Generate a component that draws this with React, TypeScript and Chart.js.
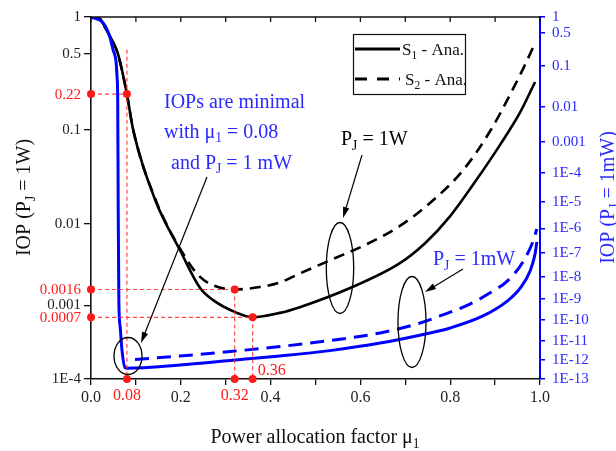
import React, { useEffect, useRef } from 'react';
import { Chart, registerables } from 'chart.js';
Chart.register(...registerables);

const FONT = '"Liberation Serif", "Times New Roman", serif';
const BLUE = '#0000ff';
const TEXT_BLUE = '#2a2aff';
const RED = '#ff1a1a';
const INK = '#222222';

// ---- data: IOP vs power allocation factor mu1 ----
const mu1W_S1 = [0, 0.02, 0.031, 0.047, 0.06, 0.069, 0.08, 0.094, 0.143, 0.198, 0.243, 0.272, 0.325, 0.36, 0.421, 0.465, 0.577, 0.688, 0.744, 0.8, 0.855, 0.911, 0.956, 0.989];
const iop1W_S1 = [1, 0.965, 0.83, 0.65, 0.5, 0.36, 0.22, 0.1, 0.0185, 0.0049, 0.00167, 0.00117, 0.0008, 0.0007, 0.0008, 0.00095, 0.00167, 0.0034, 0.0059, 0.0122, 0.029, 0.071, 0.149, 0.283];

const mu1W_S2 = [0, 0.02, 0.031, 0.047, 0.06, 0.069, 0.08, 0.094, 0.143, 0.22, 0.243, 0.265, 0.32, 0.376, 0.421, 0.465, 0.539, 0.615, 0.688, 0.755, 0.829, 0.889, 0.933, 0.962, 0.984];
const iop1W_S2 = [1, 0.965, 0.83, 0.65, 0.5, 0.36, 0.22, 0.1, 0.019, 0.0033, 0.0023, 0.00188, 0.0016, 0.00172, 0.00196, 0.00254, 0.00382, 0.00578, 0.0094, 0.0171, 0.039, 0.0976, 0.216, 0.369, 0.559];

const mu1mW_S1 = [0, 0.027, 0.042, 0.049, 0.056, 0.058, 0.0595, 0.0605, 0.062, 0.065, 0.069, 0.076, 0.08, 0.198, 0.31, 0.421, 0.532, 0.644, 0.755, 0.8, 0.873, 0.927, 0.956, 0.978, 0.989, 0.993];
const iop1mW_S1 = [1, 0.78, 0.42, 0.23, 0.12, 0.056, 0.015, 1.2e-5, 9e-10, 4.7e-11, 3.3e-12, 4e-13, 3.8e-13, 5.6e-13, 9.6e-13, 1.64e-12, 3.1e-12, 7.5e-12, 2.4e-11, 4.2e-11, 1.6e-10, 8.0e-10, 3.1e-9, 1.76e-8, 9.2e-8, 2.9e-7];

const mu1mW_S2 = [0.098, 0.198, 0.31, 0.421, 0.532, 0.644, 0.733, 0.777, 0.844, 0.889, 0.927, 0.962, 0.984, 0.993];
const iop1mW_S2 = [1.08e-12, 1.64e-12, 2.8e-12, 5.0e-12, 1.0e-11, 2.4e-11, 7.3e-11, 1.6e-10, 5.8e-10, 1.9e-9, 6.4e-9, 4.3e-8, 2.9e-7, 9.4e-7];

// ---- ticks ----
const xTicks = [0, 0.1, 0.2, 0.3, 0.4, 0.5, 0.6, 0.7, 0.8, 0.9, 1.0];
const leftTicks = [1, 0.5, 0.1, 0.01, 0.001, 1e-4];
const leftLabels = ['1', '0.5', '0.1', '0.01', '0.001', '1E-4'];
const rightTicks = [1, 0.5, 0.1, 0.01, 0.001, 1e-4, 1e-5, 1e-6, 1e-7, 1e-8, 1e-9, 1e-10, 1e-11, 1e-12, 1e-13];
const rightLabels = ['1', '0.5', '0.1', '0.01', '0.001', '1E-4', '1E-5', '1E-6', '1E-7', '1E-8', '1E-9', '1E-10', '1E-11', '1E-12', '1E-13'];

// ---- red guide markers ----
const guideMu = [0.08, 0.32, 0.36];
const guideIop = [0.22, 0.0016, 0.0007];
const guideTopIop = [0.54, 0.0016, 0.0007];
const guideMuLabels = ['0.08', '0.32', '0.36'];
const guideIopLabels = ['0.22', '0.0016', '0.0007'];

// axis warp (compressed log scale)
const C_LEFT = 1.75;
const C_RIGHT = 1.6;
const warp = (v: number, c: number) => -(Math.sqrt(Math.max(0, -Math.log10(v)) + c) - Math.sqrt(c));

type Part = [string, boolean?];

function richWidth(ctx: CanvasRenderingContext2D, parts: Part[], size: number) {
  let w = 0;
  for (const [t, sub] of parts) {
    ctx.font = `${sub ? size * 0.68 : size}px ${FONT}`;
    w += ctx.measureText(t).width;
  }
  return w;
}

function drawRich(ctx: CanvasRenderingContext2D, parts: Part[], x: number, y: number, size: number, color: string, align: 'left' | 'center' | 'right' = 'left') {
  const w = richWidth(ctx, parts, size);
  let cx = align === 'left' ? x : align === 'center' ? x - w / 2 : x - w;
  ctx.fillStyle = color;
  ctx.textAlign = 'left';
  ctx.textBaseline = 'alphabetic';
  for (const [t, sub] of parts) {
    const s = sub ? size * 0.68 : size;
    ctx.font = `${s}px ${FONT}`;
    ctx.fillText(t, cx, sub ? y + size * 0.24 : y);
    cx += ctx.measureText(t).width;
  }
}

function arrow(ctx: CanvasRenderingContext2D, x1: number, y1: number, x2: number, y2: number) {
  const a = Math.atan2(y2 - y1, x2 - x1);
  const L = 11, W = 3.2;
  ctx.beginPath();
  ctx.moveTo(x1, y1);
  ctx.lineTo(x2 - Math.cos(a) * L * 0.8, y2 - Math.sin(a) * L * 0.8);
  ctx.stroke();
  ctx.beginPath();
  ctx.moveTo(x2, y2);
  ctx.lineTo(x2 - Math.cos(a) * L + Math.sin(a) * W, y2 - Math.sin(a) * L - Math.cos(a) * W);
  ctx.lineTo(x2 - Math.cos(a) * L - Math.sin(a) * W, y2 - Math.sin(a) * L + Math.cos(a) * W);
  ctx.closePath();
  ctx.fill();
}

function ellipse(ctx: CanvasRenderingContext2D, x: number, y: number, rx: number, ry: number) {
  ctx.beginPath();
  ctx.ellipse(x, y, rx, ry, 0, 0, Math.PI * 2);
  ctx.stroke();
}

const overlayPlugin = {
  id: 'overlay',
  afterDatasetsDraw(chart: any) {
    const ctx: CanvasRenderingContext2D = chart.ctx;
    const xs = chart.scales.x;
    const yl = chart.scales.yL;
    const { left, right, top, bottom } = chart.chartArea;
    const X = (m: number) => xs.getPixelForValue(m);
    const Y = (v: number) => yl.getPixelForValue(warp(v, C_LEFT));
    ctx.save();

    // top frame + inward ticks
    ctx.strokeStyle = '#111';
    ctx.lineWidth = 1.5;
    ctx.beginPath();
    ctx.moveTo(left, top);
    ctx.lineTo(right, top);
    ctx.stroke();
    ctx.lineWidth = 1.3;
    for (const m of xTicks) {
      ctx.beginPath();
      ctx.moveTo(X(m), top);
      ctx.lineTo(X(m), top + 5);
      ctx.stroke();
    }

    // red guides
    ctx.strokeStyle = 'rgba(255,40,40,0.85)';
    ctx.lineWidth = 1.2;
    ctx.setLineDash([4, 3]);
    for (let i = 0; i < guideMu.length; i++) {
      ctx.beginPath();
      ctx.moveTo(X(0), Y(guideIop[i]));
      ctx.lineTo(X(guideMu[i]), Y(guideIop[i]));
      ctx.stroke();
      ctx.beginPath();
      ctx.moveTo(X(guideMu[i]), Y(guideTopIop[i]));
      ctx.lineTo(X(guideMu[i]), Y(1e-4));
      ctx.stroke();
    }
    ctx.setLineDash([]);
    ctx.fillStyle = RED;
    const dot = (x: number, y: number) => {
      ctx.beginPath();
      ctx.arc(x, y, 4, 0, Math.PI * 2);
      ctx.fill();
    };
    for (let i = 0; i < guideMu.length; i++) {
      dot(X(0), Y(guideIop[i]));
      dot(X(guideMu[i]), Y(guideIop[i]));
      dot(X(guideMu[i]), Y(1e-4));
    }
    ctx.font = `15px ${FONT}`;
    ctx.textAlign = 'right';
    ctx.textBaseline = 'middle';
    for (let i = 0; i < guideIop.length; i++) {
      ctx.fillText(guideIopLabels[i], left - 10, Y(guideIop[i]) + 1);
    }
    ctx.font = `16px ${FONT}`;
    ctx.textAlign = 'center';
    ctx.textBaseline = 'top';
    for (let i = 0; i < 2; i++) {
      ctx.fillText(guideMuLabels[i], X(guideMu[i]), bottom + 9);
    }
    ctx.textAlign = 'left';
    ctx.textBaseline = 'middle';
    ctx.fillText(guideMuLabels[2], X(guideMu[2]) + 5, bottom - 8);

    // ellipses and arrows
    ctx.strokeStyle = '#000';
    ctx.fillStyle = '#000';
    ctx.lineWidth = 1.3;
    ellipse(ctx, 128, 356, 14, 18.5);
    ellipse(ctx, 340, 268, 13.7, 45.5);
    ellipse(ctx, 412, 322, 14, 45.5);
    ctx.lineWidth = 1.2;
    arrow(ctx, 207, 177, 141, 343);
    arrow(ctx, 362, 155, 343, 218);
    arrow(ctx, 463, 269, 425, 292);

    // annotation texts
    drawRich(ctx, [['IOPs are minimal']], 164, 107.5, 20, TEXT_BLUE);
    drawRich(ctx, [['with μ'], ['1', true], [' = 0.08']], 164, 137.5, 20, TEXT_BLUE);
    drawRich(ctx, [['and P'], ['J', true], [' = 1 mW']], 171, 168.5, 20, TEXT_BLUE);
    drawRich(ctx, [['P'], ['J', true], [' = 1W']], 341, 145, 20, '#000');
    drawRich(ctx, [['P'], ['J', true], [' = 1mW']], 433, 265, 20, TEXT_BLUE);

    // legend
    ctx.lineWidth = 1.2;
    ctx.strokeStyle = '#111';
    ctx.strokeRect(353.5, 34.5, 112, 60);
    ctx.lineWidth = 3;
    ctx.strokeStyle = '#000';
    ctx.beginPath();
    ctx.moveTo(355, 49);
    ctx.lineTo(400, 49);
    ctx.stroke();
    ctx.setLineDash([12, 10]);
    ctx.beginPath();
    ctx.moveTo(355, 79);
    ctx.lineTo(400, 79);
    ctx.stroke();
    ctx.setLineDash([]);
    drawRich(ctx, [['S'], ['1', true], [' - Ana.']], 402, 55, 17, '#111');
    drawRich(ctx, [['S'], ['2', true], [' - Ana.']], 405, 85, 17, '#111');

    ctx.restore();
  },
  afterDraw(chart: any) {
    const ctx: CanvasRenderingContext2D = chart.ctx;
    ctx.save();
    ctx.translate(30, 197.5);
    ctx.rotate(-Math.PI / 2);
    drawRich(ctx, [['IOP (P'], ['J', true], [' = 1W)']], 0, 0, 20, '#111', 'center');
    ctx.restore();
    ctx.save();
    ctx.translate(614, 197.5);
    ctx.rotate(-Math.PI / 2);
    drawRich(ctx, [['IOP (P'], ['J', true], [' = 1mW)']], 0, 0, 20, TEXT_BLUE, 'center');
    ctx.restore();
    ctx.save();
    drawRich(ctx, [['Power allocation factor μ'], ['1', true]], 315, 443, 20, '#111', 'center');
    ctx.restore();
  },
};

const mk = (mu: number[], iop: number[], c: number) => mu.map((m, i) => ({ x: m, y: warp(iop[i], c) }));
const findLabel = (v: number, ticks: number[], labels: string[], c: number) => {
  for (let i = 0; i < ticks.length; i++) if (Math.abs(warp(ticks[i], c) - v) < 1e-7) return labels[i];
  return '';
};

export default function App() {
  const ref = useRef<HTMLCanvasElement>(null);
  useEffect(() => {
    if (!ref.current) return;
    const chart = new Chart(ref.current, {
      type: 'line',
      data: {
        datasets: [
          { label: 'S1 - 1W', data: mk(mu1W_S1, iop1W_S1, C_LEFT), yAxisID: 'yL', borderColor: '#000', borderWidth: 2.6, pointRadius: 0, cubicInterpolationMode: 'monotone', order: 2 },
          { label: 'S2 - 1W', data: mk(mu1W_S2, iop1W_S2, C_LEFT), yAxisID: 'yL', borderColor: '#000', borderWidth: 2.6, borderDash: [11, 7], pointRadius: 0, cubicInterpolationMode: 'monotone', order: 2 },
          { label: 'S1 - 1mW', data: mk(mu1mW_S1, iop1mW_S1, C_RIGHT), yAxisID: 'yR', borderColor: BLUE, borderWidth: 3, pointRadius: 0, cubicInterpolationMode: 'monotone', order: 1 },
          { label: 'S2 - 1mW', data: mk(mu1mW_S2, iop1mW_S2, C_RIGHT), yAxisID: 'yR', borderColor: BLUE, borderWidth: 3, borderDash: [14, 8], pointRadius: 0, cubicInterpolationMode: 'monotone', order: 1 },
        ] as any,
      },
      options: {
        responsive: false,
        animation: false,
        devicePixelRatio: 1,
        layout: { padding: { top: 17, left: 0, right: 0, bottom: 0 } },
        plugins: { legend: { display: false }, tooltip: { enabled: false } },
        scales: {
          x: {
            type: 'linear',
            min: 0,
            max: 1,
            afterFit: (s: any) => { s.height = 72; },
            afterBuildTicks: (s: any) => { s.ticks = xTicks.map((v) => ({ value: v })); },
            ticks: {
              autoSkip: false,
              maxRotation: 0,
              padding: 3,
              color: INK,
              font: { family: FONT, size: 16 },
              callback: (v: any) => {
                const k = Math.round(Number(v) * 10);
                return k % 2 === 0 ? (k / 10).toFixed(1) : '';
              },
            },
            grid: { drawOnChartArea: false, tickLength: 6, color: '#111', lineWidth: 1.3 },
            border: { color: '#111', width: 1.6 },
          },
          yL: {
            type: 'linear',
            position: 'left',
            min: warp(1e-4, C_LEFT),
            max: 0,
            bounds: 'data',
            afterFit: (s: any) => { s.width = 91; },
            afterBuildTicks: (s: any) => { s.ticks = leftTicks.map((v) => ({ value: warp(v, C_LEFT) })).reverse(); },
            ticks: {
              autoSkip: false,
              padding: 3,
              color: INK,
              font: { family: FONT, size: 15 },
              callback: (v: any) => findLabel(Number(v), leftTicks, leftLabels, C_LEFT),
            },
            grid: { drawOnChartArea: false, tickLength: 7, color: '#111', lineWidth: 1.3 },
            border: { color: '#111', width: 1.6 },
          },
          yR: {
            type: 'linear',
            position: 'right',
            min: warp(1e-13, C_RIGHT),
            max: 0,
            bounds: 'data',
            afterFit: (s: any) => { s.width = 76; },
            afterBuildTicks: (s: any) => { s.ticks = rightTicks.map((v) => ({ value: warp(v, C_RIGHT) })).reverse(); },
            ticks: {
              autoSkip: false,
              padding: 7,
              color: TEXT_BLUE,
              font: { family: FONT, size: 15 },
              callback: (v: any) => findLabel(Number(v), rightTicks, rightLabels, C_RIGHT),
            },
            grid: { drawOnChartArea: false, tickLength: 5, color: BLUE, lineWidth: 1.5 },
            border: { color: BLUE, width: 2 },
          },
        },
      } as any,
      plugins: [overlayPlugin],
    });
    return () => chart.destroy();
  }, []);
  return (
    <div style={{ position: 'fixed', left: 0, top: 0, width: 616, height: 451, background: '#fff' }}>
      <canvas ref={ref} width={616} height={451} style={{ display: 'block' }} />
    </div>
  );
}
